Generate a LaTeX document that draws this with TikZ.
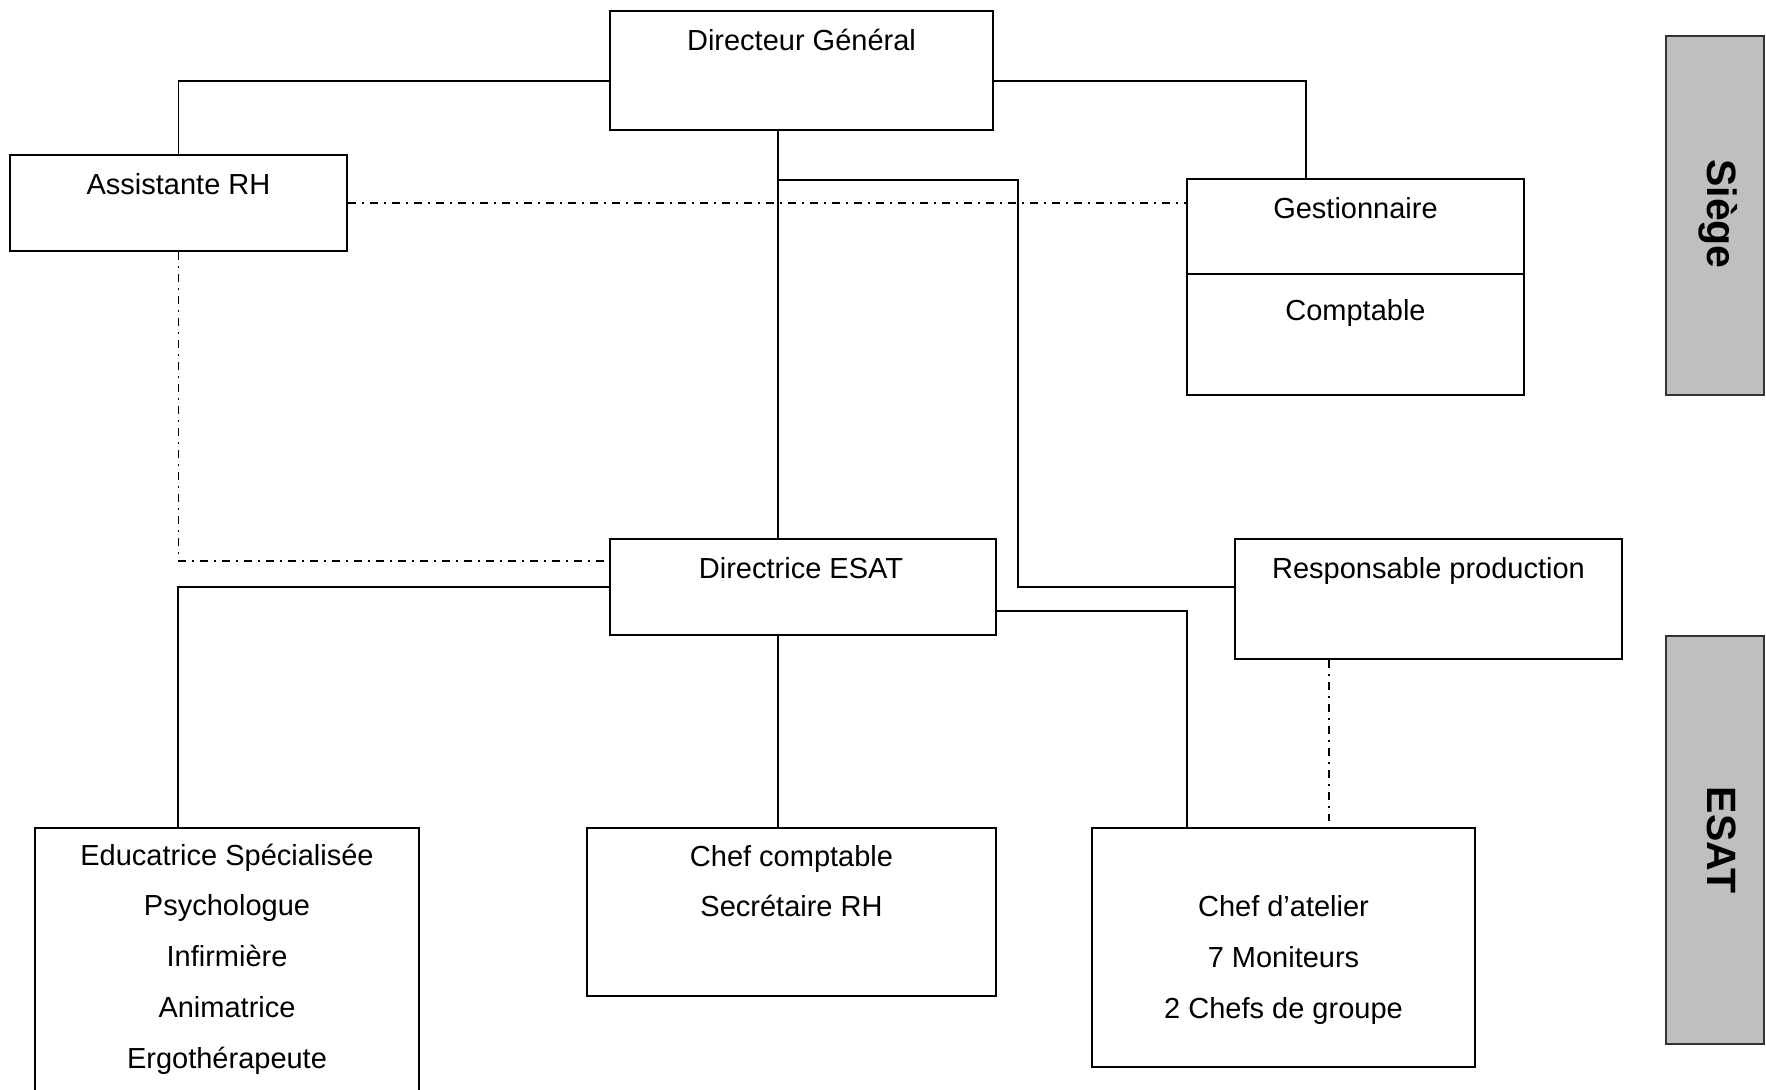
\documentclass[tikz,border=0pt]{standalone}
\usepackage{fontspec}
\setmainfont{Liberation Sans}
\usetikzlibrary{calc}

\tikzset{
  box/.style={draw, line width=1pt, inner sep=0pt, fill=white},
  band/.style={draw=black!80, line width=1pt, fill=black!25, inner sep=0pt},
  txt/.style={anchor=base, inner sep=0pt, font=\fontsize{14.5}{17}\selectfont},
  tag/.style={anchor=base, rotate=-90, inner sep=0pt, font=\fontsize{20.5}{24}\selectfont\bfseries},
  link/.style={line width=0.8pt},
  relation/.style={line width=0.85pt, dash pattern=on 4pt off 3pt on 1pt off 3pt},
}

\begin{document}
\begin{tikzpicture}[x=0.5pt, y=-0.5pt]
  \clip (0,0) rectangle (1766,1089);

  % --- boxes ---
  \node[box, minimum width=191.5pt, minimum height=59.5pt] (dg)    at (801.5,70.5) {};
  \node[box, minimum width=168.5pt, minimum height=48pt]   (arh)   at (178.5,203)  {};
  \node[box, minimum width=168.5pt, minimum height=47.5pt] (gest)  at (1355.5,226.5) {};
  \node[box, minimum width=168.5pt, minimum height=60.5pt] (compt) at (1355.5,334.5) {};
  \node[box, minimum width=193pt,   minimum height=48pt]   (desat) at (803,587)    {};
  \node[box, minimum width=193.5pt, minimum height=60pt]   (resp)  at (1428.5,599) {};
  \node[box, minimum width=192pt,   minimum height=141pt]  (educ)  at (227,969)    {};
  \node[box, minimum width=204.5pt, minimum height=84pt]   (cc)    at (791.5,912)  {};
  \node[box, minimum width=191.5pt, minimum height=119.5pt](atel)  at (1283.5,947.5) {};

  % --- side bands ---
  \node[band, minimum width=49pt, minimum height=179.5pt] (siege) at (1715,215.5) {};
  \node[band, minimum width=49pt, minimum height=204pt]   (esat)  at (1715,840)   {};
  \node[tag] (siegetxt) at (1707,214) {Siège};
  \node[tag] (esattxt)  at (1707,840) {ESAT};

  % --- box texts ---
  \node[txt] (dgtxt)    at ($(dg.north)+(0,40)$)    {Directeur Général};
  \node[txt] (arhtxt)   at ($(arh.north)+(0,40)$)   {Assistante RH};
  \node[txt] (gesttxt)  at ($(gest.north)+(0,40)$)  {Gestionnaire};
  \node[txt] (compttxt) at ($(compt.north)+(0,47)$) {Comptable};
  \node[txt] (desattxt) at ($(desat.north)+(-2,40)$) {Directrice ESAT};
  \node[txt] (resptxt)  at ($(resp.north)+(0,40)$)  {Responsable production};
  \foreach \t [count=\i from 0] in {Educatrice Spécialisée, Psychologue, Infirmière, Animatrice, Ergothérapeute}
    \node[txt] (eductxt\i) at ($(educ.north)+(0,{38+50.8*\i})$) {\t};
  \foreach \t [count=\i from 0] in {Chef comptable, Secrétaire RH}
    \node[txt] (cctxt\i) at ($(cc.north)+(0,{39+50*\i})$) {\t};
  \foreach \t [count=\i from 0] in {Chef d’atelier, 7 Moniteurs, 2 Chefs de groupe}
    \node[txt] (ateltxt\i) at ($(atel.north)+(0,{89+51*\i})$) {\t};

  % --- hierarchy links ---
  \coordinate (bend) at ($(resp.north west)+(-216,49)$);
  \draw[link] ($(dg.north west)+(0,71)$) -| (arh.north);
  \draw[link] ($(dg.north east)+(0,71)$) -| ($(gest.north west)+(120,0)$);
  \draw[link] ($(dg.south west)+(169,0)$) -- ($(desat.north west)+(169,0)$);
  \draw[link] ($(dg.south west)+(169,49)$) -| (bend) -- (bend -| resp.west);
  \draw[link] ($(desat.north west)+(0,49)$) -| ($(educ.north west)+(144,0)$);
  \draw[link] ($(desat.south west)+(169,0)$) coordinate (ccdrop) -- (ccdrop |- cc.north);
  \draw[link] ($(desat.north east)+(0,73)$) -| ($(atel.north west)+(96,0)$);

  % --- functional relations ---
  \draw[relation] (arh.east) -- (arh.east -| gest.west);
  \draw[relation] (arh.south) |- ($(desat.north west)+(0,23)$);
  \draw[relation] ($(resp.south west)+(95,0)$) -- ($(atel.north west)+(238,-6)$);
\end{tikzpicture}
\end{document}
